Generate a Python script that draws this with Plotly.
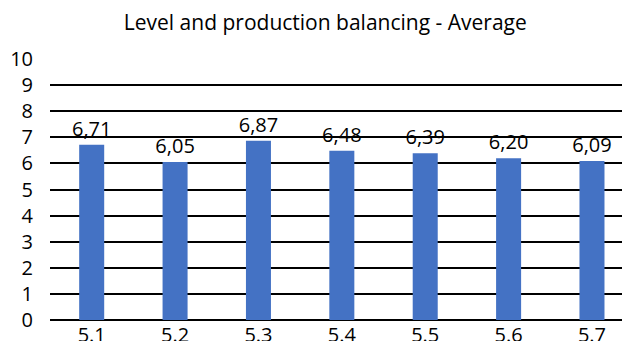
import plotly.graph_objects as go

categories = ["5.1", "5.2", "5.3", "5.4", "5.5", "5.6", "5.7"]
values = [6.71, 6.05, 6.87, 6.48, 6.39, 6.20, 6.09]
labels = [f"{v:.2f}".replace(".", ",") for v in values]
y_ticks = list(range(0, 11))

font_family = "Open Sans, Lato, sans-serif"

fig = go.Figure(
    go.Bar(
        x=categories,
        y=values,
        text=labels,
        textposition="outside",
        constraintext="none",
        textfont=dict(size=20, color="#000000", family=font_family),
        marker=dict(color="#4472C4", line=dict(width=0)),
        width=0.3,
        cliponaxis=False,
    )
)

fig.update_layout(
    width=622,
    height=341,
    margin=dict(l=50, r=0, t=59, b=21, autoexpand=False),
    paper_bgcolor="white",
    plot_bgcolor="white",
    showlegend=False,
    uniformtext=dict(mode=False),
    title=dict(
        text="Level and production balancing - Average",
        x=0.523,
        xanchor="center",
        y=0.935,
        yanchor="middle",
        font=dict(size=21, color="#000000", family=font_family),
    ),
    font=dict(family=font_family, color="#000000"),
)

fig.update_xaxes(
    type="category",
    range=[-0.5, 6.36],
    automargin=False,
    showgrid=False,
    showline=False,
    zeroline=False,
    tickfont=dict(size=20, color="#000000"),
    ticks="",
    ticklabelstandoff=1,
)

fig.update_yaxes(
    range=[0, 10],
    tickvals=y_ticks,
    automargin=False,
    showgrid=True,
    gridcolor="#000000",
    gridwidth=1.5,
    zeroline=True,
    zerolinecolor="#000000",
    zerolinewidth=1.5,
    showline=False,
    tickfont=dict(size=20, color="#000000"),
    ticks="",
    ticklabelstandoff=16,
)

fig.write_html("out.html")
